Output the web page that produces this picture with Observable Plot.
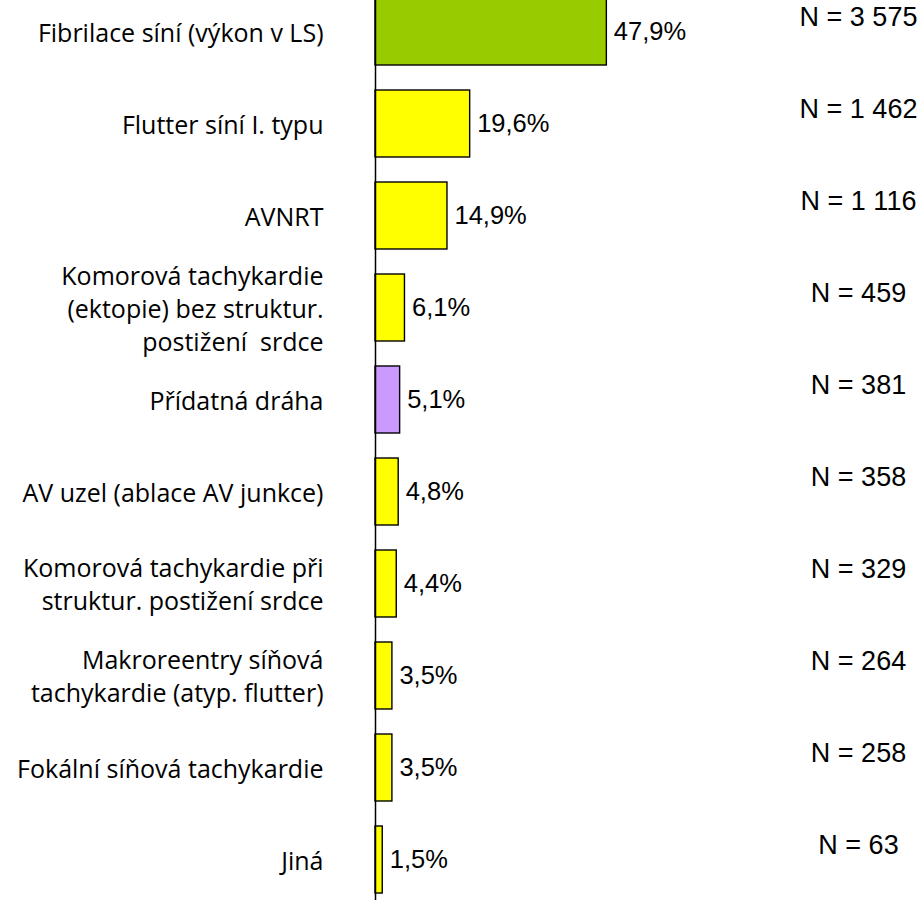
<!DOCTYPE html>
<html>
<head>
<meta charset="utf-8">
<script src="https://cdn.jsdelivr.net/npm/d3@7"></script>
<script src="https://cdn.jsdelivr.net/npm/@observablehq/plot@0.6"></script>
<style>
  html, body { margin: 0; padding: 0; background: #fff; }
  #chart svg { display: block; }
</style>
</head>
<body>
<div id="chart"></div>
<script>
const categories = [
  "Fibrilace síní (výkon v LS)",
  "Flutter síní I. typu",
  "AVNRT",
  "Komorová tachykardie\n(ektopie) bez struktur.\npostižení  srdce",
  "Přídatná dráha",
  "AV uzel (ablace AV junkce)",
  "Komorová tachykardie při\nstruktur. postižení srdce",
  "Makroreentry síňová\ntachykardie (atyp. flutter)",
  "Fokální síňová tachykardie",
  "Jiná"
];
const percents = [47.9, 19.6, 14.9, 6.1, 5.1, 4.8, 4.4, 3.5, 3.5, 1.5];
const counts = [3575, 1462, 1116, 459, 381, 358, 329, 264, 258, 63];
const groups = ["FS", "other", "other", "other", "AP", "other", "other", "other", "other", "other"];

const groupDomain = ["FS", "other", "AP"];
const groupColors = ["#99CC00", "#FFFF00", "#CC99FF"];

const data = categories.map((c, i) => ({
  category: c,
  pct: percents[i],
  n: counts[i],
  group: groups[i]
}));

const nf = d3.formatLocale({decimal: ",", thousands: " ", grouping: [3], currency: ["", ""]}).format(",d");
const pctLabel = d => d.pct.toFixed(1).replace(".", ",") + "%";
const nLabel = d => "N = " + nf(d.n);

const chart = Plot.plot({
  width: 922,
  height: 900,
  marginLeft: 375,
  marginRight: 64,
  marginTop: 0,
  marginBottom: 0,
  x: {domain: [0, 100], axis: null},
  y: {
    type: "band",
    domain: categories,
    range: [-15.8, 906.2],
    paddingInner: 0.27,
    paddingOuter: 0.135,
    axis: null
  },
  color: {domain: groupDomain, range: groupColors},
  marks: [
    Plot.barX(data, {
      x: "pct",
      y: "category",
      fill: "group",
      stroke: "#000",
      strokeWidth: 1.4
    }),
    Plot.ruleX([0], {stroke: "#000", strokeWidth: 1.5}),
    Plot.text(data, {
      x: "pct",
      y: "category",
      text: pctLabel,
      textAnchor: "start",
      dx: 7,
      fontSize: 25.5,
      fontFamily: "Liberation Sans, Arial, sans-serif",
      fill: "#000"
    }),
    Plot.text(data, {
      y: "category",
      frameAnchor: "left",
      text: "category",
      textAnchor: "end",
      dx: -52,
      dy: -1,
      lineHeight: 1.32,
      fontSize: 25,
      fontFamily: "Open Sans, sans-serif",
      fill: "#000"
    }),
    Plot.text(data, {
      y: "category",
      frameAnchor: "right",
      text: nLabel,
      textAnchor: "middle",
      dy: -15,
      fontSize: 27,
      fontFamily: "Liberation Sans, Arial, sans-serif",
      fill: "#000"
    })
  ]
});

document.getElementById("chart").appendChild(chart);
</script>
</body>
</html>
